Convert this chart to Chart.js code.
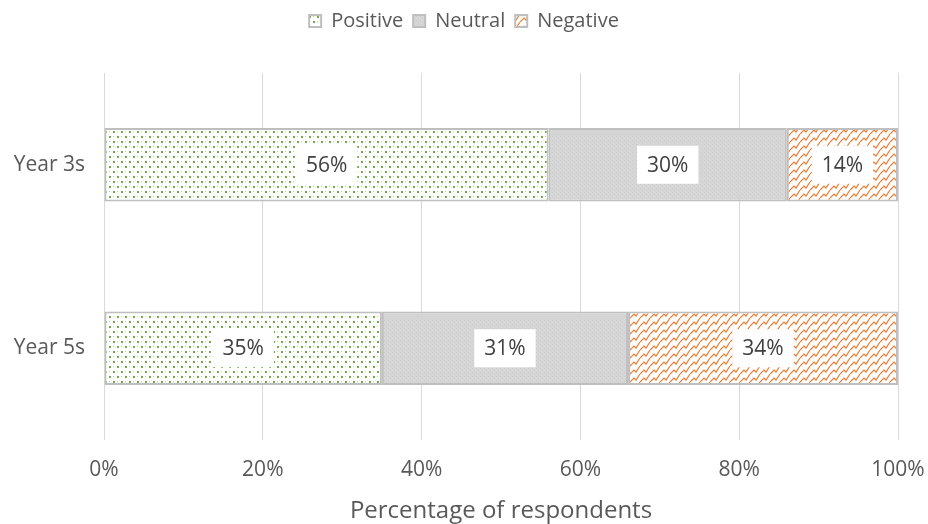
<!DOCTYPE html>
<html>
<head>
<meta charset="utf-8">
<script src="https://cdn.jsdelivr.net/npm/chart.js@4"></script>
<style>
  html, body { margin: 0; padding: 0; background: #fff; }
  #wrap { width: 928px; height: 524px; }
</style>
</head>
<body>
<div id="wrap"><canvas id="chartCanvas" width="928" height="524"></canvas></div>
<script>
// 数据
const categories = ['Year 3s', 'Year 5s'];
const positiveValues = [56, 35];
const neutralValues = [30, 31];
const negativeValues = [14, 34];
const tickLabels = ['0%', '20%', '40%', '60%', '80%', '100%'];

const FONT = '"Open Sans", "Noto Sans", sans-serif';

// 点状填充（Positive）
function dotPattern() {
    const c = document.createElement('canvas');
    c.width = 8; c.height = 10;
    const g = c.getContext('2d');
    g.fillStyle = '#fff';
    g.fillRect(0, 0, 8, 10);
    g.fillStyle = '#70AD47';
    g.fillRect(1, 1, 2, 2);
    g.fillRect(5, 6, 2, 2);
    g.globalAlpha = 0.5;
    g.fillRect(5, 1, 1, 1);
    g.fillRect(1, 6, 1, 1);
    return g.createPattern(c, 'repeat');
}

// 灰色纹理（Neutral）
function grayPattern() {
    const c = document.createElement('canvas');
    c.width = 4; c.height = 4;
    const g = c.getContext('2d');
    g.fillStyle = '#D6D6D6';
    g.fillRect(0, 0, 4, 4);
    g.fillStyle = '#CCCCCC';
    g.fillRect(0, 0, 1, 1);
    g.fillRect(2, 2, 1, 1);
    return g.createPattern(c, 'repeat');
}

// 编织纹（Negative）
function weavePattern() {
    const c = document.createElement('canvas');
    c.width = 10; c.height = 8;
    const g = c.getContext('2d');
    g.fillStyle = '#fff';
    g.fillRect(0, 0, 10, 8);
    g.strokeStyle = '#ED7D31';
    g.lineWidth = 1.2;
    [-8, 0, 8].forEach(dy => {
        g.beginPath();
        g.moveTo(0, 6 + dy); g.lineTo(4, 2 + dy); g.lineTo(6, 4 + dy); g.lineTo(10, -2 + dy);
        g.stroke();
    });
    return g.createPattern(c, 'repeat');
}

// 数据标签插件
const barLabels = {
    id: 'barLabels',
    afterDatasetsDraw(chart) {
        const ctx = chart.ctx;
        ctx.save();
        ctx.font = '21px ' + FONT;
        ctx.textAlign = 'center';
        ctx.textBaseline = 'middle';
        chart.data.datasets.forEach((ds, i) => {
            chart.getDatasetMeta(i).data.forEach((bar, j) => {
                const text = ds.data[j] + '%';
                const w = ctx.measureText(text).width + 20;
                const h = 38;
                const cx = (bar.x + bar.base) / 2;
                const cy = bar.y;
                ctx.fillStyle = '#fff';
                ctx.fillRect(cx - w / 2, cy - h / 2, w, h);
                ctx.fillStyle = '#404040';
                ctx.fillText(text, cx, cy + 1);
            });
        });
        ctx.restore();
    }
};

// 图例下方留白
const legendSpace = {
    id: 'legendSpace',
    beforeLayout(chart) {
        const lg = chart.legend;
        if (lg && !lg._spaced) {
            const fit = lg.fit.bind(lg);
            lg.fit = function () { fit(); this.height += 32; };
            lg._spaced = true;
        }
    }
};

const ctx = document.getElementById('chartCanvas').getContext('2d');
new Chart(ctx, {
    type: 'bar',
    data: {
        labels: categories,
        datasets: [
            { label: 'Positive', data: positiveValues, backgroundColor: dotPattern() },
            { label: 'Neutral', data: neutralValues, backgroundColor: grayPattern() },
            { label: 'Negative', data: negativeValues, backgroundColor: weavePattern() }
        ]
    },
    options: {
        indexAxis: 'y',
        responsive: false,
        animation: false,
        datasets: {
            bar: {
                categoryPercentage: 1,
                barPercentage: 0.4,
                borderColor: '#BFBFBF',
                borderWidth: 2,
                borderSkipped: false
            }
        },
        layout: { padding: { top: 1, right: 0, bottom: 0, left: 0 } },
        plugins: {
            legend: {
                position: 'top',
                labels: {
                    boxWidth: 12,
                    boxHeight: 12,
                    padding: 10,
                    color: '#595959',
                    font: { family: FONT, size: 20 }
                }
            },
            tooltip: { enabled: false }
        },
        scales: {
            x: {
                stacked: true,
                min: 0,
                max: 100,
                ticks: {
                    stepSize: 20,
                    padding: 17,
                    color: '#595959',
                    font: { family: FONT, size: 21 },
                    callback: (v, i) => tickLabels[i]
                },
                grid: { color: '#D9D9D9', drawTicks: false },
                border: { display: false },
                title: {
                    display: true,
                    text: 'Percentage of respondents',
                    color: '#595959',
                    font: { family: FONT, size: 24 },
                    padding: { top: 0, bottom: -2 }
                },
                afterFit: (s) => { s.height = 84; s.paddingRight = 30; s.paddingLeft = 0; }
            },
            y: {
                stacked: true,
                ticks: {
                    padding: 19,
                    color: '#595959',
                    font: { family: FONT, size: 21 }
                },
                grid: { display: false, drawTicks: false },
                border: { display: false },
                afterFit: (s) => { s.width = 104; }
            }
        }
    },
    plugins: [barLabels, legendSpace]
});
</script>
</body>
</html>
